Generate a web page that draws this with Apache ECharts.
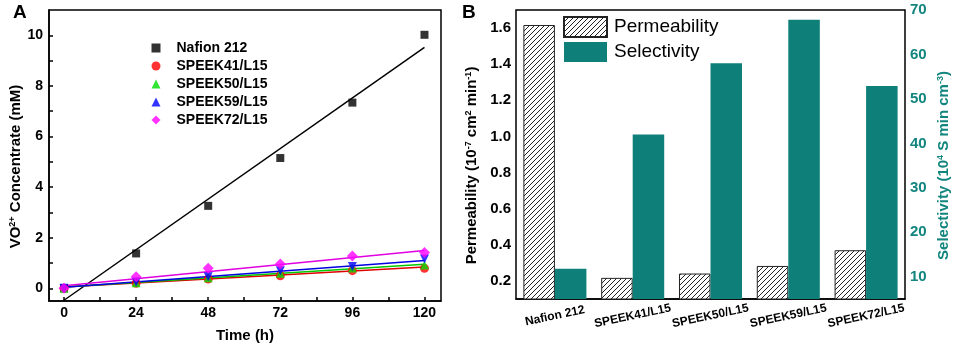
<!DOCTYPE html>
<html>
<head>
<meta charset="utf-8">
<script src="https://cdn.jsdelivr.net/npm/echarts@6/dist/echarts.min.js"></script>
<style>
  html, body { margin: 0; padding: 0; background: #fff; }
  #main { width: 957px; height: 349px; }
</style>
</head>
<body>
<div id="main"></div>
<script>
// panel A: VO2+ concentration vs time
const hours = [0, 24, 48, 72, 96, 120];
const nafion212 = [0.0, 1.38, 3.26, 5.15, 7.34, 10.02];
const speek41 = [0.0, 0.20, 0.37, 0.50, 0.70, 0.79];
const speek50 = [0.0, 0.22, 0.42, 0.60, 0.80, 0.92];
const speek59 = [0.0, 0.25, 0.46, 0.70, 0.86, 1.16];
const speek72 = [0.0, 0.46, 0.79, 0.96, 1.28, 1.42];
// fitted lines, end points
const fitHours = [0, 120];
const nafionFit = [-0.47, 9.52];
const speek41Fit = [0.05, 0.84];
const speek50Fit = [0.05, 0.95];
const speek59Fit = [0.04, 1.10];
const speek72Fit = [0.10, 1.50];
const timeTicks = [0, 24, 48, 72, 96, 120];
const timeTickMarks = [0, 12, 24, 36, 48, 60, 72, 84, 96, 108, 120];
const concTicks = [0, 2, 4, 6, 8, 10];
const concTickMarks = [0, 1, 2, 3, 4, 5, 6, 7, 8, 9, 10];

// panel B: permeability / selectivity
const membranes = ['Nafion 212', 'SPEEK41/L15', 'SPEEK50/L15', 'SPEEK59/L15', 'SPEEK72/L15'];
const permeability = [1.617, 0.217, 0.241, 0.283, 0.370];
const selectivity = [11.8, 42.0, 58.0, 67.8, 52.9];
const permTicks = [0.2, 0.4, 0.6, 0.8, 1.0, 1.2, 1.4, 1.6];
const permTickMarks = [0.2, 0.3, 0.4, 0.5, 0.6, 0.7, 0.8, 0.9, 1.0, 1.1, 1.2, 1.3, 1.4, 1.5, 1.6];
const selTicks = [10, 20, 30, 40, 50, 60, 70];
const selTickMarks = [10, 15, 20, 25, 30, 35, 40, 45, 50, 55, 60, 65, 70];

var FONT = 'Arial, "Liberation Sans", sans-serif';
var TEAL = '#0e7f79';
var TEAL_TXT = '#11857e';

// hatch pattern for permeability bars
var hatch = document.createElement('canvas');
hatch.width = 5; hatch.height = 5;
var hc = hatch.getContext('2d');
hc.fillStyle = '#fff';
hc.fillRect(0, 0, 5, 5);
hc.strokeStyle = '#222';
hc.lineWidth = 1;
hc.beginPath();
hc.moveTo(-1, 6); hc.lineTo(6, -1);
hc.moveTo(-1, 1); hc.lineTo(1, -1);
hc.moveTo(4, 6); hc.lineTo(6, 4);
hc.stroke();

function pairs(xs, ys) {
  return xs.map(function (x, i) { return [x, ys[i]]; });
}

var chartDom = document.getElementById('main');
var myChart = echarts.init(chartDom);
var option;

var supRich = {
  sup: { fontSize: 9, fontWeight: 'bold', fontFamily: FONT, verticalAlign: 'top', padding: [0, 0, 7, 0] }
};

option = {
  animation: false,
  backgroundColor: '#fff',
  graphic: [
    { type: 'text', left: 13, top: 3, style: { text: 'A', font: 'bold 19px ' + FONT, fill: '#000' } },
    { type: 'text', left: 462, top: 3, style: { text: 'B', font: 'bold 19px ' + FONT, fill: '#000' } }
  ],
  grid: [
    { left: 49, right: 516, top: 10, bottom: 48, show: true, borderColor: '#000', borderWidth: 1.5 },
    { left: 516, right: 52, top: 10, bottom: 50, show: true, borderColor: '#000', borderWidth: 1.5 }
  ],
  legend: [
    {
      left: 151.5, top: 41, orient: 'vertical', padding: 0,
      itemWidth: 9, itemHeight: 9, itemGap: 4,
      textStyle: { fontSize: 14, fontWeight: 'bold', fontFamily: FONT, color: '#000', padding: [0, 0, 0, 11] },
      data: ['Nafion 212', 'SPEEK41/L15', 'SPEEK50/L15', 'SPEEK59/L15', 'SPEEK72/L15']
    },
    {
      left: 563, top: 16, orient: 'vertical', padding: 0,
      itemWidth: 43, itemHeight: 20, itemGap: 4, icon: 'rect',
      textStyle: { fontSize: 19, fontFamily: FONT, color: '#000', padding: [0, 0, 0, 2] },
      data: ['Permeability', 'Selectivity']
    }
  ],
  xAxis: [
    {
      gridIndex: 0, type: 'value', min: -5, max: 125.5,
      name: 'Time (h)', nameLocation: 'middle', nameGap: 27,
      nameTextStyle: { fontSize: 15, fontWeight: 'bold', fontFamily: FONT, color: '#000' },
      axisLine: { onZero: false, lineStyle: { color: '#000', width: 1.5 } },
      axisTick: { inside: true, length: 4, customValues: timeTickMarks, lineStyle: { color: '#000', width: 1.5 } },
      axisLabel: { customValues: timeTicks, margin: 5, fontSize: 14, fontWeight: 'bold', fontFamily: FONT, color: '#000' },
      splitLine: { show: false }
    },
    {
      gridIndex: 1, type: 'category', data: membranes,
      axisLine: { lineStyle: { color: '#000', width: 1.5 } },
      axisTick: { show: false },
      axisLabel: {
        rotate: 12, align: 'center', verticalAlign: 'middle', margin: 17,
        fontSize: 12, fontWeight: 'bold', fontFamily: FONT, color: '#000'
      },
      splitLine: { show: false }
    }
  ],
  yAxis: [
    {
      gridIndex: 0, type: 'value', min: -0.5, max: 11,
      name: 'VO{sup|2+} Concentrate (mM)', nameLocation: 'middle', nameGap: 20,
      nameTextStyle: { fontSize: 15, fontWeight: 'bold', fontFamily: FONT, color: '#000', padding: [0, 22, 0, 0], rich: supRich },
      axisLine: { onZero: false, lineStyle: { color: '#000', width: 1.5 } },
      axisTick: { inside: true, length: 4, customValues: concTickMarks, lineStyle: { color: '#000', width: 1.5 } },
      axisLabel: { customValues: concTicks, margin: 6, fontSize: 14, fontWeight: 'bold', fontFamily: FONT, color: '#000' },
      splitLine: { show: false }
    },
    {
      gridIndex: 1, type: 'value', min: 0.1, max: 1.7, position: 'left',
      name: 'Permeability (10{sup|-7} cm{sup|2} min{sup|-1})', nameLocation: 'middle', nameGap: 36,
      nameTextStyle: { fontSize: 15, fontWeight: 'bold', fontFamily: FONT, color: '#000', padding: [0, 22, 0, 0], rich: supRich },
      axisLine: { onZero: false, lineStyle: { color: '#000', width: 1.5 } },
      axisTick: { length: 4, customValues: permTickMarks, lineStyle: { color: '#000', width: 1.5 } },
      axisLabel: {
        customValues: permTicks, margin: 5, fontSize: 15, fontWeight: 'bold', fontFamily: FONT, color: '#000',
        formatter: function (v) { return v.toFixed(1); }
      },
      splitLine: { show: false }
    },
    {
      gridIndex: 1, type: 'value', min: 5, max: 70, position: 'right',
      name: 'Selectivity (10{tsup|4} S min cm{tsup|-3})', nameLocation: 'middle', nameGap: 31,
      nameTextStyle: {
        fontSize: 15, fontWeight: 'bold', fontFamily: FONT, color: TEAL_TXT, padding: [0, 22, 0, 0],
        rich: { tsup: { fontSize: 9, fontWeight: 'bold', fontFamily: FONT, color: TEAL_TXT, verticalAlign: 'top', padding: [0, 0, 7, 0] } }
      },
      axisLine: { onZero: false, lineStyle: { color: TEAL, width: 1.5 } },
      axisTick: { length: 4, customValues: selTickMarks, lineStyle: { color: TEAL, width: 1.5 } },
      axisLabel: { customValues: selTicks, margin: 5, fontSize: 15, fontWeight: 'bold', fontFamily: FONT, color: TEAL_TXT },
      splitLine: { show: false }
    }
  ],
  series: [
    // fitted lines
    { type: 'line', xAxisIndex: 0, yAxisIndex: 0, data: pairs(fitHours, nafionFit), symbol: 'none', lineStyle: { color: '#000', width: 1.5 }, z: 1 },
    { type: 'line', xAxisIndex: 0, yAxisIndex: 0, data: pairs(fitHours, speek41Fit), symbol: 'none', lineStyle: { color: '#e00000', width: 1.5 }, z: 1 },
    { type: 'line', xAxisIndex: 0, yAxisIndex: 0, data: pairs(fitHours, speek50Fit), symbol: 'none', lineStyle: { color: '#00c800', width: 1.5 }, z: 1 },
    { type: 'line', xAxisIndex: 0, yAxisIndex: 0, data: pairs(fitHours, speek59Fit), symbol: 'none', lineStyle: { color: '#0000e0', width: 1.5 }, z: 1 },
    { type: 'line', xAxisIndex: 0, yAxisIndex: 0, data: pairs(fitHours, speek72Fit), symbol: 'none', lineStyle: { color: '#e000e0', width: 1.5 }, z: 1 },
    // measured points
    { name: 'Nafion 212', type: 'scatter', xAxisIndex: 0, yAxisIndex: 0, data: pairs(hours, nafion212), symbol: 'rect', symbolSize: 8, itemStyle: { color: '#000' }, z: 2 },
    { name: 'SPEEK41/L15', type: 'scatter', xAxisIndex: 0, yAxisIndex: 0, data: pairs(hours, speek41), symbol: 'circle', symbolSize: 9, itemStyle: { color: '#ff0000' }, z: 2 },
    { name: 'SPEEK50/L15', type: 'scatter', xAxisIndex: 0, yAxisIndex: 0, data: pairs(hours, speek50), symbol: 'triangle', symbolSize: 9, itemStyle: { color: '#00e000' }, z: 2 },
    { name: 'SPEEK59/L15', type: 'scatter', xAxisIndex: 0, yAxisIndex: 0, data: pairs(hours, speek59), symbol: 'triangle', symbolRotate: 180, symbolSize: 9, itemStyle: { color: '#0000ff' }, z: 2 },
    { name: 'SPEEK72/L15', type: 'scatter', xAxisIndex: 0, yAxisIndex: 0, data: pairs(hours, speek72), symbol: 'diamond', symbolSize: 11, itemStyle: { color: '#ff00ff' }, z: 2 },
    // bars
    {
      name: 'Permeability', type: 'bar', xAxisIndex: 1, yAxisIndex: 1, data: permeability,
      barGap: 0, barCategoryGap: '19%', clip: true,
      itemStyle: { color: { image: hatch, repeat: 'repeat' }, borderColor: '#222', borderWidth: 1 }
    },
    {
      name: 'Selectivity', type: 'bar', xAxisIndex: 1, yAxisIndex: 2, data: selectivity,
      barGap: 0, barCategoryGap: '19%', clip: true,
      itemStyle: { color: TEAL }
    }
  ]
};

option && myChart.setOption(option);
</script>
</body>
</html>
